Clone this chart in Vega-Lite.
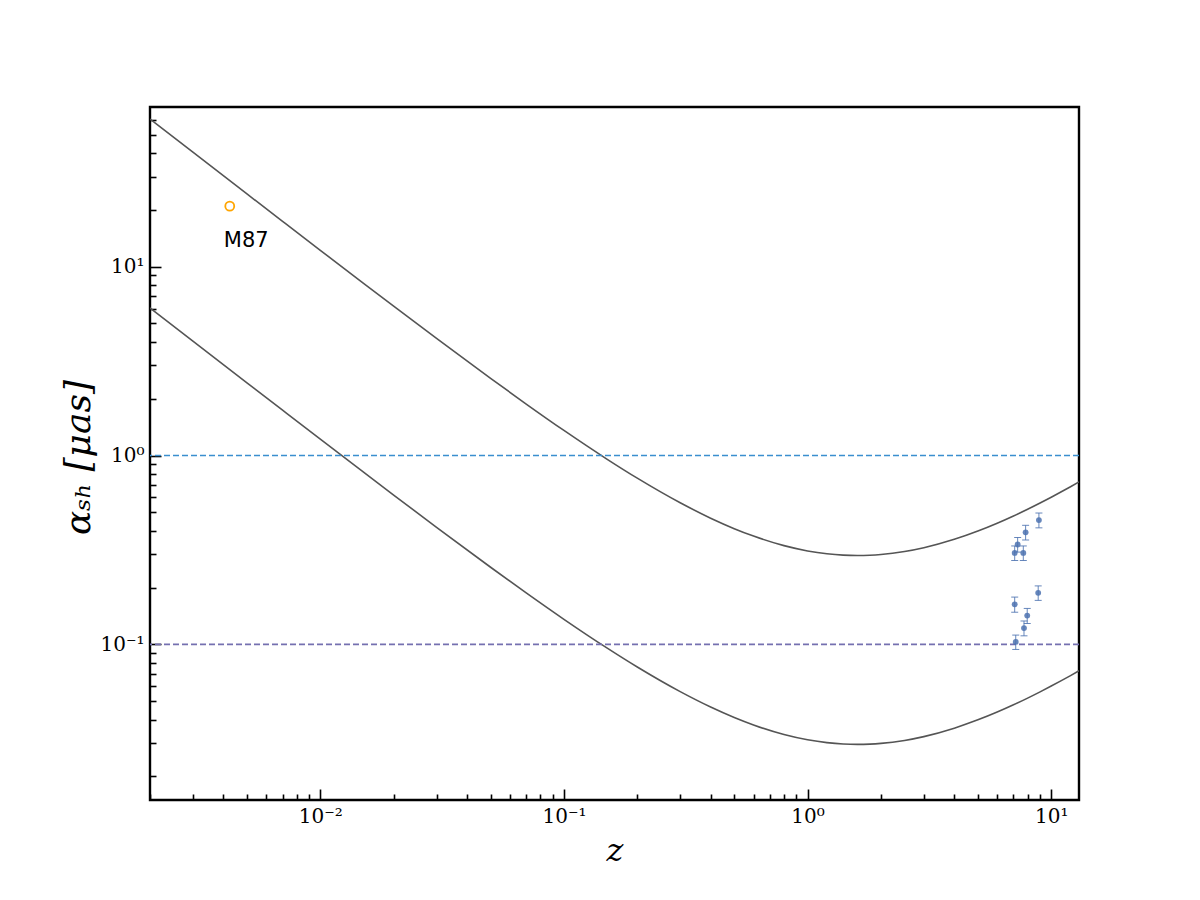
{
  "$schema": "https://vega.github.io/schema/vega-lite/v6.json",
  "width": 929,
  "height": 693,
  "autosize": {"type": "none"},
  "padding": {"left": 150, "top": 107, "right": 121, "bottom": 100},
  "background": "white",
  "config": {
    "view": {"stroke": "black", "strokeWidth": 2.4},
    "axis": {"grid": false, "domain": false, "tickColor": "black", "tickWidth": 1.6, "labelColor": "black", "titleColor": "black"}
  },
  "datasets": {
    "curves": [
      {"z": 0.002, "alpha": 60.42, "curve": "upper"},
      {"z": 0.003, "alpha": 40.33, "curve": "upper"},
      {"z": 0.005, "alpha": 24.26, "curve": "upper"},
      {"z": 0.007, "alpha": 17.37, "curve": "upper"},
      {"z": 0.01, "alpha": 12.2, "curve": "upper"},
      {"z": 0.015, "alpha": 8.184, "curve": "upper"},
      {"z": 0.02, "alpha": 6.176, "curve": "upper"},
      {"z": 0.03, "alpha": 4.167, "curve": "upper"},
      {"z": 0.05, "alpha": 2.561, "curve": "upper"},
      {"z": 0.07, "alpha": 1.873, "curve": "upper"},
      {"z": 0.1, "alpha": 1.357, "curve": "upper"},
      {"z": 0.15, "alpha": 0.9575, "curve": "upper"},
      {"z": 0.2, "alpha": 0.7585, "curve": "upper"},
      {"z": 0.3, "alpha": 0.5619, "curve": "upper"},
      {"z": 0.4, "alpha": 0.4658, "curve": "upper"},
      {"z": 0.5, "alpha": 0.41, "curve": "upper"},
      {"z": 0.6, "alpha": 0.3744, "curve": "upper"},
      {"z": 0.8, "alpha": 0.3333, "curve": "upper"},
      {"z": 1.0, "alpha": 0.3125, "curve": "upper"},
      {"z": 1.2, "alpha": 0.3018, "curve": "upper"},
      {"z": 1.4, "alpha": 0.2968, "curve": "upper"},
      {"z": 1.6, "alpha": 0.2954, "curve": "upper"},
      {"z": 1.8, "alpha": 0.2964, "curve": "upper"},
      {"z": 2.0, "alpha": 0.299, "curve": "upper"},
      {"z": 2.5, "alpha": 0.3101, "curve": "upper"},
      {"z": 3, "alpha": 0.3249, "curve": "upper"},
      {"z": 4, "alpha": 0.36, "curve": "upper"},
      {"z": 5, "alpha": 0.3984, "curve": "upper"},
      {"z": 6, "alpha": 0.4382, "curve": "upper"},
      {"z": 7, "alpha": 0.4787, "curve": "upper"},
      {"z": 8, "alpha": 0.5195, "curve": "upper"},
      {"z": 9, "alpha": 0.5605, "curve": "upper"},
      {"z": 10, "alpha": 0.6015, "curve": "upper"},
      {"z": 11, "alpha": 0.6426, "curve": "upper"},
      {"z": 12, "alpha": 0.6836, "curve": "upper"},
      {"z": 13, "alpha": 0.7245, "curve": "upper"},
      {"z": 0.002, "alpha": 6.042, "curve": "lower"},
      {"z": 0.003, "alpha": 4.033, "curve": "lower"},
      {"z": 0.005, "alpha": 2.426, "curve": "lower"},
      {"z": 0.007, "alpha": 1.737, "curve": "lower"},
      {"z": 0.01, "alpha": 1.22, "curve": "lower"},
      {"z": 0.015, "alpha": 0.8184, "curve": "lower"},
      {"z": 0.02, "alpha": 0.6176, "curve": "lower"},
      {"z": 0.03, "alpha": 0.4167, "curve": "lower"},
      {"z": 0.05, "alpha": 0.2561, "curve": "lower"},
      {"z": 0.07, "alpha": 0.1873, "curve": "lower"},
      {"z": 0.1, "alpha": 0.1357, "curve": "lower"},
      {"z": 0.15, "alpha": 0.09575, "curve": "lower"},
      {"z": 0.2, "alpha": 0.07585, "curve": "lower"},
      {"z": 0.3, "alpha": 0.05619, "curve": "lower"},
      {"z": 0.4, "alpha": 0.04658, "curve": "lower"},
      {"z": 0.5, "alpha": 0.041, "curve": "lower"},
      {"z": 0.6, "alpha": 0.03744, "curve": "lower"},
      {"z": 0.8, "alpha": 0.03333, "curve": "lower"},
      {"z": 1.0, "alpha": 0.03125, "curve": "lower"},
      {"z": 1.2, "alpha": 0.03018, "curve": "lower"},
      {"z": 1.4, "alpha": 0.02968, "curve": "lower"},
      {"z": 1.6, "alpha": 0.02954, "curve": "lower"},
      {"z": 1.8, "alpha": 0.02964, "curve": "lower"},
      {"z": 2.0, "alpha": 0.0299, "curve": "lower"},
      {"z": 2.5, "alpha": 0.03101, "curve": "lower"},
      {"z": 3, "alpha": 0.03249, "curve": "lower"},
      {"z": 4, "alpha": 0.036, "curve": "lower"},
      {"z": 5, "alpha": 0.03984, "curve": "lower"},
      {"z": 6, "alpha": 0.04382, "curve": "lower"},
      {"z": 7, "alpha": 0.04787, "curve": "lower"},
      {"z": 8, "alpha": 0.05195, "curve": "lower"},
      {"z": 9, "alpha": 0.05605, "curve": "lower"},
      {"z": 10, "alpha": 0.06015, "curve": "lower"},
      {"z": 11, "alpha": 0.06426, "curve": "lower"},
      {"z": 12, "alpha": 0.06836, "curve": "lower"},
      {"z": 13, "alpha": 0.07245, "curve": "lower"}
    ],
    "obs": [
      {"z": 8.9, "alpha": 0.455, "lo": 0.414, "hi": 0.496},
      {"z": 7.85, "alpha": 0.392, "lo": 0.357, "hi": 0.427},
      {"z": 7.28, "alpha": 0.338, "lo": 0.308, "hi": 0.368},
      {"z": 7.08, "alpha": 0.305, "lo": 0.278, "hi": 0.332},
      {"z": 7.68, "alpha": 0.305, "lo": 0.278, "hi": 0.332},
      {"z": 8.84, "alpha": 0.1875, "lo": 0.171, "hi": 0.204},
      {"z": 7.08, "alpha": 0.163, "lo": 0.148, "hi": 0.178},
      {"z": 7.97, "alpha": 0.142, "lo": 0.129, "hi": 0.155},
      {"z": 7.73, "alpha": 0.122, "lo": 0.111, "hi": 0.133},
      {"z": 7.15, "alpha": 0.103, "lo": 0.094, "hi": 0.112}
    ],
    "m87": [{"z": 0.00425, "alpha": 20.9, "name": "M87"}]
  },
  "layer": [
    {
      "layer": [
        {
          "data": {"name": "curves"},
          "mark": {"type": "line", "color": "#555555", "strokeWidth": 1.6, "interpolate": "monotone", "clip": true},
          "encoding": {
            "x": {"field": "z", "type": "quantitative",
              "scale": {"type": "log", "domain": [0.002, 13], "nice": false},
              "axis": {"values": [0.01, 0.1, 1, 10], "orient": "bottom",
                "labelExpr": "datum.value < 0.05 ? '10⁻²' : datum.value < 0.5 ? '10⁻¹' : datum.value < 5 ? '10⁰' : '10¹'",
                "tickSize": -11, "labelPadding": 17, "labelFont": "DejaVu Serif", "labelFontSize": 20,
                "labelFlush": false, "labelOverlap": false,
                "title": "z", "titleFont": "DejaVu Serif", "titleFontStyle": "italic", "titleFontWeight": "normal", "titleFontSize": 32,
                "titleX": 464.5, "titleY": 50, "titleBaseline": "middle", "titleAlign": "center"}},
            "y": {"field": "alpha", "type": "quantitative",
              "scale": {"type": "log", "domain": [0.015, 70], "nice": false},
              "axis": {"values": [0.1, 1, 10], "orient": "left",
                "labelExpr": "datum.value < 0.5 ? '10⁻¹' : datum.value < 5 ? '10⁰' : '10¹'",
                "tickSize": -11, "labelPadding": 17, "labelFont": "DejaVu Serif", "labelFontSize": 20,
                "labelFlush": false, "labelOverlap": false,
                "title": "αₛₕ [μas]", "titleFont": "DejaVu Serif", "titleFontStyle": "italic", "titleFontWeight": "normal", "titleFontSize": 36,
                "titleAngle": -90, "titleX": -72, "titleY": 350, "titleBaseline": "middle", "titleAlign": "center"}},
            "detail": {"field": "curve", "type": "nominal"}
          }
        },
        {
          "data": {"values": [{"alpha": 1}]},
          "mark": {"type": "rule", "color": "#3a8fcf", "strokeWidth": 1.6, "strokeDash": [6, 3]},
          "encoding": {"y": {"field": "alpha", "type": "quantitative"}}
        },
        {
          "data": {"values": [{"alpha": 0.1}]},
          "mark": {"type": "rule", "color": "#7570b0", "strokeWidth": 1.6, "strokeDash": [6, 3]},
          "encoding": {"y": {"field": "alpha", "type": "quantitative"}}
        },
        {
          "data": {"name": "obs"},
          "mark": {"type": "rule", "color": "#4c72b0", "strokeWidth": 1, "opacity": 0.85},
          "encoding": {
            "x": {"field": "z", "type": "quantitative"},
            "y": {"field": "lo", "type": "quantitative"},
            "y2": {"field": "hi"}
          }
        },
        {
          "data": {"name": "obs"},
          "mark": {"type": "tick", "color": "#4c72b0", "orient": "horizontal", "size": 7, "thickness": 1, "opacity": 0.85},
          "encoding": {
            "x": {"field": "z", "type": "quantitative"},
            "y": {"field": "lo", "type": "quantitative"}
          }
        },
        {
          "data": {"name": "obs"},
          "mark": {"type": "tick", "color": "#4c72b0", "orient": "horizontal", "size": 7, "thickness": 1, "opacity": 0.85},
          "encoding": {
            "x": {"field": "z", "type": "quantitative"},
            "y": {"field": "hi", "type": "quantitative"}
          }
        },
        {
          "data": {"name": "obs"},
          "mark": {"type": "circle", "color": "#4c72b0", "size": 34, "opacity": 0.85},
          "encoding": {
            "x": {"field": "z", "type": "quantitative"},
            "y": {"field": "alpha", "type": "quantitative"}
          }
        },
        {
          "data": {"name": "m87"},
          "mark": {"type": "text", "align": "left", "baseline": "alphabetic", "dx": -6, "dy": 41, "font": "DejaVu Sans", "fontSize": 21, "color": "black"},
          "encoding": {
            "x": {"field": "z", "type": "quantitative"},
            "y": {"field": "alpha", "type": "quantitative"},
            "text": {"field": "name"}
          }
        }
      ]
    },
    {
      "data": {"name": "m87"},
      "mark": {"type": "point", "filled": false, "color": "#ffa500", "strokeWidth": 1.8, "size": 80, "opacity": 1},
      "encoding": {
        "x": {"field": "z", "type": "quantitative",
          "axis": {"orient": "bottom", "values": [0.002, 0.003, 0.004, 0.005, 0.006, 0.007, 0.008, 0.009, 0.02, 0.03, 0.04, 0.05, 0.06, 0.07, 0.08, 0.09, 0.2, 0.3, 0.4, 0.5, 0.6, 0.7, 0.8, 0.9, 2, 3, 4, 5, 6, 7, 8, 9],
            "tickSize": -6, "labels": false, "title": null}},
        "y": {"field": "alpha", "type": "quantitative",
          "axis": {"orient": "left", "values": [0.02, 0.03, 0.04, 0.05, 0.06, 0.07, 0.08, 0.09, 0.2, 0.3, 0.4, 0.5, 0.6, 0.7, 0.8, 0.9, 2, 3, 4, 5, 6, 7, 8, 9, 20, 30, 40, 50, 60],
            "tickSize": -6, "labels": false, "title": null}}
      }
    }
  ],
  "resolve": {"axis": {"x": "independent", "y": "independent"}}
}
